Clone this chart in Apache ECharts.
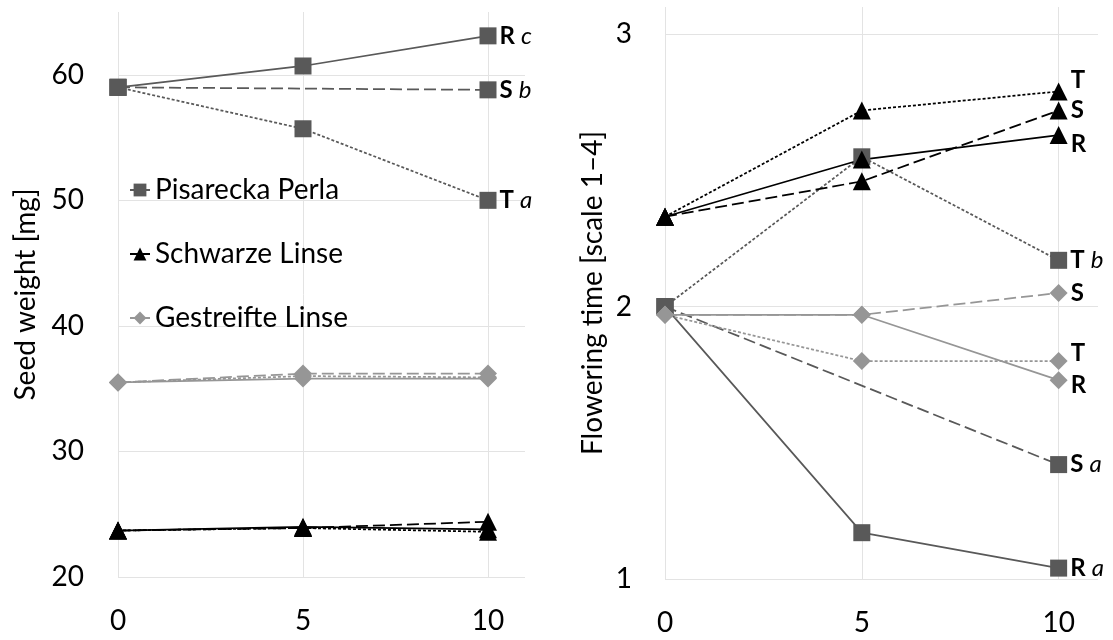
<!DOCTYPE html>
<html>
<head>
<meta charset="utf-8">
<script src="https://cdn.jsdelivr.net/npm/echarts@6/dist/echarts.min.js"></script>
<style>
  html, body { margin: 0; padding: 0; background: #fff; }
  #chart { width: 1113px; height: 640px; }
</style>
</head>
<body>
<div id="chart"></div>
<script>
// ---- data ----
const xValues = [0, 5, 10];
const treatments = ['R', 'S', 'T'];
const varieties = ['Pisarecka Perla', 'Schwarze Linse', 'Gestreifte Linse'];

// Seed weight [mg]  (left panel)
const swPisR = [59.0, 60.7, 63.1];
const swPisS = [59.0, null, 58.8];
const swPisT = [59.0, 55.7, 50.0];
const swSchR = [23.7, 24.0, 23.8];
const swSchS = [23.7, 23.9, 24.4];
const swSchT = [23.7, 23.9, 23.6];
const swGesR = [35.5, 35.8, 35.8];
const swGesS = [35.5, 36.2, 36.2];
const swGesT = [35.5, 36.0, 35.9];
const swPisSig = ['c', 'b', 'a'];

// Flowering time [scale 1-4]  (right panel)
const ftPisR = [2.0, 1.17, 1.04];
const ftPisS = [2.0, null, 1.42];
const ftPisT = [2.0, 2.55, 2.17];
const ftSchR = [2.33, 2.54, 2.63];
const ftSchS = [2.33, 2.46, 2.72];
const ftSchT = [2.33, 2.72, 2.79];
const ftGesR = [1.97, 1.97, 1.73];
const ftGesS = [1.97, 1.97, 2.05];
const ftGesT = [1.97, 1.80, 1.80];
const ftPisSig = ['a', 'a', 'b'];

// y tick labels
const swTicks = [20, 30, 40, 50, 60];
const ftTicks = [1, 2, 3];

// ---- styles ----
const FONT = 'Lato';
const colPis = '#595959', colSch = '#000000', colGes = '#969696';
const lineTypes = { R: 'solid', S: [12, 5], T: [3, 2] };

function pts(vals) {
  return vals.map((v, i) => v == null ? null : [xValues[i], v]).filter(Boolean);
}

function mk(name, vals, gi, tr, color, symbol, size, labelText, labelOffset) {
  const d = pts(vals);
  const last = d.length - 1;
  const data = d.map((p, i) => (i === last && labelText) ? {
    value: p,
    label: { show: true, formatter: labelText, offset: labelOffset || [0, 0] }
  } : p);
  return {
    type: 'line', name: name, xAxisIndex: gi, yAxisIndex: gi,
    data: data, connectNulls: true,
    symbol: symbol, symbolSize: size, showAllSymbol: true,
    itemStyle: { color: color },
    lineStyle: { color: color, width: 1.75, type: lineTypes[tr] },
    label: {
      show: false, position: 'right', distance: 3, color: '#000',
      fontFamily: FONT, fontSize: 24,
      rich: {
        b: { fontWeight: 'bold', fontSize: 24, fontFamily: FONT, color: '#000' },
        s: { fontSize: 24, fontFamily: FONT, color: '#000' },
        i: { fontStyle: 'italic', fontSize: 24, fontFamily: FONT, color: '#000' }
      }
    },
    emphasis: { disabled: true },
    animation: false, z: 3
  };
}

function sig(t, s) { return '{b|' + t + '}{s| }{i|' + s + '}'; }

const sqS = 17, triS = 18, diaS = 18;
const series = [
  // left panel
  mk(varieties[0], swPisR, 0, 'R', colPis, 'rect', sqS, sig(treatments[0], swPisSig[0])),
  mk(varieties[0], swPisS, 0, 'S', colPis, 'rect', sqS, sig(treatments[1], swPisSig[1])),
  mk(varieties[0], swPisT, 0, 'T', colPis, 'rect', sqS, sig(treatments[2], swPisSig[2])),
  mk(varieties[1], swSchR, 0, 'R', colSch, 'triangle', triS),
  mk(varieties[1], swSchS, 0, 'S', colSch, 'triangle', triS),
  mk(varieties[1], swSchT, 0, 'T', colSch, 'triangle', triS),
  mk(varieties[2], swGesR, 0, 'R', colGes, 'diamond', diaS),
  mk(varieties[2], swGesS, 0, 'S', colGes, 'diamond', diaS),
  mk(varieties[2], swGesT, 0, 'T', colGes, 'diamond', diaS),
  // right panel
  mk(varieties[0], ftPisR, 1, 'R', colPis, 'rect', sqS, sig(treatments[0], ftPisSig[0])),
  mk(varieties[0], ftPisS, 1, 'S', colPis, 'rect', sqS, sig(treatments[1], ftPisSig[1])),
  mk(varieties[0], ftPisT, 1, 'T', colPis, 'rect', sqS, sig(treatments[2], ftPisSig[2])),
  mk(varieties[1], ftSchR, 1, 'R', colSch, 'triangle', triS, '{b|R}', [0, 9]),
  mk(varieties[1], ftSchS, 1, 'S', colSch, 'triangle', triS, '{b|S}', [0, 0]),
  mk(varieties[1], ftSchT, 1, 'T', colSch, 'triangle', triS, '{b|T}', [0, -11]),
  mk(varieties[2], ftGesR, 1, 'R', colGes, 'diamond', diaS, '{b|R}', [0, 5]),
  mk(varieties[2], ftGesS, 1, 'S', colGes, 'diamond', diaS, '{b|S}', [0, 0]),
  mk(varieties[2], ftGesT, 1, 'T', colGes, 'diamond', diaS, '{b|T}', [0, -8])
];

const gridLine = { show: true, showMaxLine: false, lineStyle: { color: '#e3e3e3', width: 1 } };
const labelStyle = { color: '#000', fontFamily: FONT, fontSize: 28 };

function xAxis(gi) {
  return {
    type: 'value', gridIndex: gi, min: 0, max: 11, interval: 5,
    axisLine: { show: false }, axisTick: { show: false },
    splitLine: gridLine,
    axisLabel: Object.assign({ margin: 30, showMaxLabel: false }, labelStyle)
  };
}

const chart = echarts.init(document.getElementById('chart'), null, { renderer: 'canvas' });
chart.setOption({
  backgroundColor: '#ffffff',
  animation: false,
  textStyle: { fontFamily: FONT },
  grid: [
    { left: 118, right: 588, top: 12, bottom: 63 },
    { left: 665, right: 15, top: 7, bottom: 61 }
  ],
  xAxis: [xAxis(0), xAxis(1)],
  yAxis: [
    {
      type: 'value', gridIndex: 0, min: swTicks[0], max: 65, interval: 10,
      axisLine: { show: false }, axisTick: { show: false },
      splitLine: gridLine,
      axisLabel: Object.assign({ margin: 34, showMaxLabel: false }, labelStyle),
      name: 'Seed weight [mg]', nameLocation: 'middle', nameRotate: 90, nameGap: 78,
      nameTextStyle: { color: '#000', fontFamily: FONT, fontSize: 28 }
    },
    {
      type: 'value', gridIndex: 1, min: ftTicks[0], max: 3.1, interval: 1,
      axisLine: { show: false }, axisTick: { show: false },
      splitLine: gridLine,
      axisLabel: Object.assign({ margin: 33, showMaxLabel: false }, labelStyle),
      name: 'Flowering time [scale 1–4]', nameLocation: 'middle', nameRotate: 90, nameGap: 58,
      nameTextStyle: { color: '#000', fontFamily: FONT, fontSize: 28 }
    }
  ],
  legend: {
    data: varieties,
    orient: 'vertical', left: 124, top: 169,
    itemWidth: 20, itemHeight: 16, itemGap: 32,
    textStyle: { color: '#000', fontFamily: FONT, fontSize: 28, lineHeight: 32 },
    selectedMode: false
  },
  series: series
});
</script>
</body>
</html>
